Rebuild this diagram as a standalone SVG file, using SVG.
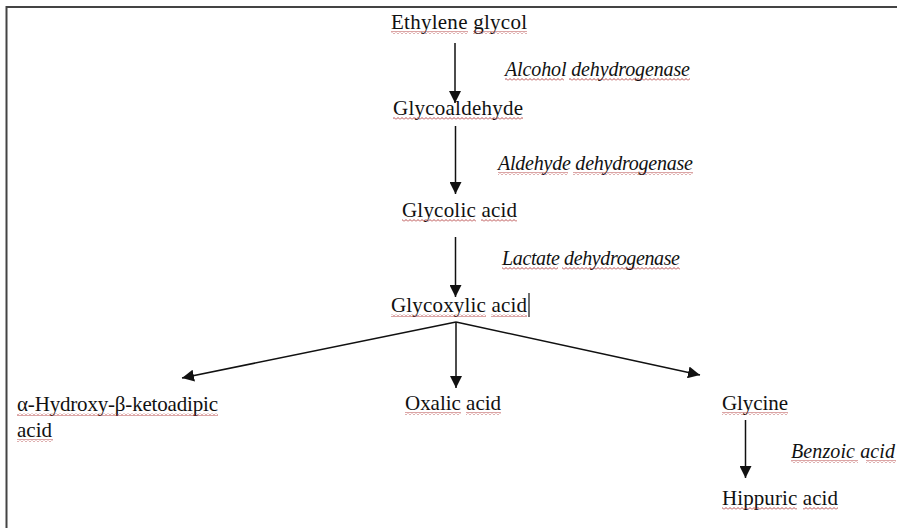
<svg xmlns="http://www.w3.org/2000/svg" width="897" height="528" viewBox="0 0 897 528">
<defs>
<style>
text{font-family:"Liberation Serif","Times New Roman",serif;fill:#111}
.t{font-size:21px}
.e{font-size:20px;font-style:italic}
.c{stroke:#111;stroke-width:1.5;fill:none}
.w{fill:url(#wavy)}
</style>
<pattern id="wavy" patternUnits="userSpaceOnUse" width="4" height="3">
<path d="M0,2.5 L2,0.5 L4,2.5" fill="none" stroke="#b03838" stroke-width="0.9"/>
</pattern>
<marker id="ah" markerUnits="userSpaceOnUse" markerWidth="12" markerHeight="12" viewBox="0 0 10 10" refX="10" refY="5" orient="auto">
<path d="M0,0 L10,5 L0,10 Z" fill="#111"/>
</marker>
</defs>
<rect width="897" height="528" fill="#fff"/>
<path d="M6.5,528 V7 H897" fill="none" stroke="#444" stroke-width="2"/>
<g id="connectors">
<line class="c" x1="455" y1="43" x2="455" y2="103" marker-end="url(#ah)"/>
<line class="c" x1="455.5" y1="126" x2="455.5" y2="194" marker-end="url(#ah)"/>
<line class="c" x1="455.5" y1="237" x2="455.5" y2="297" marker-end="url(#ah)"/>
<line class="c" x1="456" y1="322" x2="456" y2="388" marker-end="url(#ah)"/>
<line class="c" x1="456" y1="322" x2="182" y2="378" marker-end="url(#ah)"/>
<line class="c" x1="456" y1="322" x2="700" y2="375" marker-end="url(#ah)"/>
<line class="c" x1="745.5" y1="420" x2="745.5" y2="478" marker-end="url(#ah)"/>
</g>
<g id="ethylene-glycol">
<text class="t" x="391" y="29" textLength="136">Ethylene glycol</text>
<rect class="w" x="391" y="31" width="77" height="3"/>
<rect class="w" x="473" y="31" width="54" height="3"/>
</g>
<g id="alcohol-dehydrogenase">
<text class="e" x="505" y="76" textLength="185">Alcohol dehydrogenase</text>
<rect class="w" x="505" y="78" width="59" height="3"/>
<rect class="w" x="569" y="78" width="121" height="3"/>
</g>
<g id="glycoaldehyde">
<text class="t" x="393" y="115" textLength="130">Glycoaldehyde</text>
<rect class="w" x="393" y="117" width="130" height="3"/>
</g>
<g id="aldehyde-dehydrogenase">
<text class="e" x="498" y="170" textLength="195">Aldehyde dehydrogenase</text>
<rect class="w" x="498" y="172" width="70" height="3"/>
<rect class="w" x="573" y="172" width="120" height="3"/>
</g>
<g id="glycolic-acid">
<text class="t" x="402" y="217" textLength="115">Glycolic acid</text>
<rect class="w" x="402" y="219" width="74" height="3"/>
<rect class="w" x="481" y="219" width="36" height="3"/>
</g>
<g id="lactate-dehydrogenase">
<text class="e" x="502" y="265" textLength="178">Lactate dehydrogenase</text>
<rect class="w" x="502" y="267" width="56" height="3"/>
<rect class="w" x="562" y="267" width="118" height="3"/>
</g>
<g id="glycoxylic-acid">
<text class="t" x="391" y="312" textLength="136">Glycoxylic acid</text>
<rect class="w" x="391" y="314" width="95" height="3"/>
<rect class="w" x="491" y="314" width="36" height="3"/>
<line x1="529" y1="293" x2="529" y2="317" stroke="#111" stroke-width="1.2"/>
</g>
<g id="hydroxy-ketoadipic-acid">
<text class="t" x="17" y="411" textLength="201">α-Hydroxy-β-ketoadipic</text>
<text class="t" x="17" y="437" textLength="35">acid</text>
<rect class="w" x="17" y="413" width="201" height="3"/>
<rect class="w" x="17" y="439" width="36" height="3"/>
</g>
<g id="oxalic-acid">
<text class="t" x="405" y="410" textLength="96">Oxalic acid</text>
<rect class="w" x="405" y="412" width="56" height="3"/>
<rect class="w" x="466" y="412" width="35" height="3"/>
</g>
<g id="glycine">
<text class="t" x="722" y="410" textLength="66">Glycine</text>
<rect class="w" x="722" y="412" width="66" height="3"/>
</g>
<g id="benzoic-acid">
<text class="e" x="791" y="458" font-size="21" textLength="104">Benzoic acid</text>
<rect class="w" x="791" y="460" width="67" height="3"/>
<rect class="w" x="866" y="460" width="30" height="3"/>
</g>
<g id="hippuric-acid">
<text class="t" x="722" y="505" textLength="116">Hippuric acid</text>
<rect class="w" x="722" y="507" width="75" height="3"/>
<rect class="w" x="803" y="507" width="35" height="3"/>
</g>
</svg>
